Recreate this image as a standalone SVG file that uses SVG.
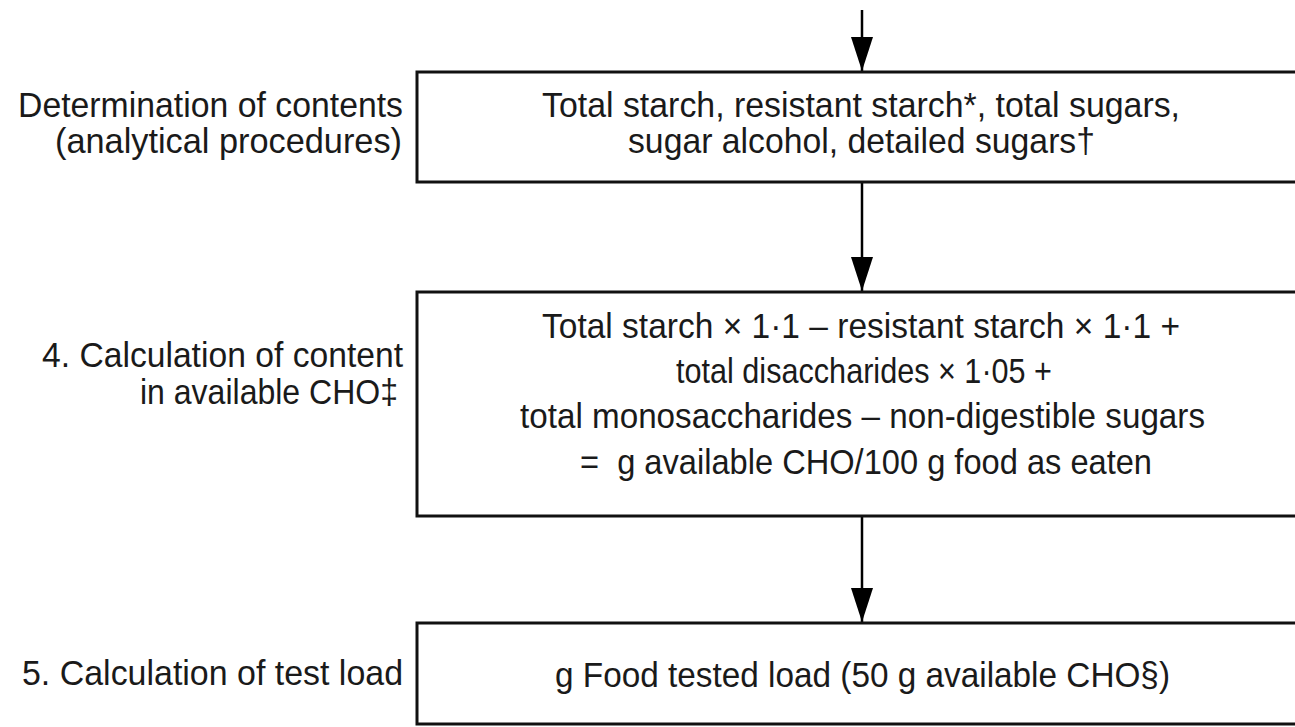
<svg xmlns="http://www.w3.org/2000/svg" width="1295" height="727" viewBox="0 0 1295 727">
<defs>
<marker id="ah" markerWidth="34" markerHeight="22" refX="34" refY="11" orient="auto" markerUnits="userSpaceOnUse" viewBox="0 0 34 22">
<path d="M0,0 L34,11 L0,22 Z" fill="#000"/>
</marker>
</defs>
<style>
text{font-family:"Liberation Sans",Arial,sans-serif;font-size:35px;fill:#1a1a1a}
.box{fill:#fff;stroke:#111;stroke-width:3}
.conn{stroke:#000;stroke-width:2.5;fill:none}
</style>
<rect width="1295" height="727" fill="#fff"/>
<g id="connectors">
<line class="conn" x1="862" y1="10" x2="862" y2="71" marker-end="url(#ah)"/>
<line class="conn" x1="862" y1="182" x2="862" y2="291" marker-end="url(#ah)"/>
<line class="conn" x1="862" y1="516" x2="862" y2="622" marker-end="url(#ah)"/>
</g>
<g id="label1">
<text x="18" y="117" textLength="385" lengthAdjust="spacingAndGlyphs">Determination of contents</text>
<text x="55" y="153" textLength="347" lengthAdjust="spacingAndGlyphs">(analytical procedures)</text>
</g>
<g id="label2">
<text x="42" y="367" textLength="361" lengthAdjust="spacingAndGlyphs">4. Calculation of content</text>
<text x="140" y="404" textLength="258" lengthAdjust="spacingAndGlyphs">in available CHO‡</text>
</g>
<g id="label3">
<text x="22" y="685" textLength="381" lengthAdjust="spacingAndGlyphs">5. Calculation of test load</text>
</g>
<g id="box1">
<rect class="box" x="417" y="72" width="900" height="110"/>
<text x="542" y="117" textLength="638" lengthAdjust="spacingAndGlyphs">Total starch, resistant starch*, total sugars,</text>
<text x="628" y="153" textLength="467" lengthAdjust="spacingAndGlyphs">sugar alcohol, detailed sugars†</text>
</g>
<g id="box2">
<rect class="box" x="417" y="292" width="900" height="224"/>
<text x="542" y="338" textLength="638" lengthAdjust="spacingAndGlyphs">Total starch × 1·1 – resistant starch × 1·1 +</text>
<text x="676" y="383" textLength="376" lengthAdjust="spacingAndGlyphs">total disaccharides × 1·05 +</text>
<text x="520" y="428" textLength="685" lengthAdjust="spacingAndGlyphs">total monosaccharides – non-digestible sugars</text>
<text x="580" y="474" textLength="572" lengthAdjust="spacingAndGlyphs" xml:space="preserve">=  g available CHO/100 g food as eaten</text>
</g>
<g id="box3">
<rect class="box" x="417" y="623" width="900" height="101"/>
<text x="555" y="687" textLength="615" lengthAdjust="spacingAndGlyphs">g Food tested load (50 g available CHO§)</text>
</g>
</svg>
